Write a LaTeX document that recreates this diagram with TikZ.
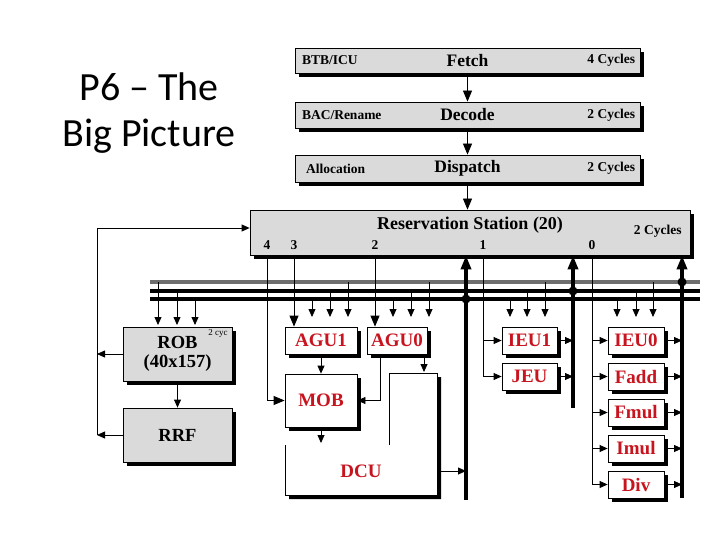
\documentclass[tikz,border=0pt]{standalone}
\usepackage{fontspec}
\setmainfont{Liberation Serif}
\newfontfamily\titlefont{Carlito}
\usepackage{tikz}
\usetikzlibrary{arrows.meta,shadows}
\usepackage{xcolor}
\definecolor{unitred}{RGB}{200, 20, 30}
\definecolor{stagegray}{RGB}{218, 218, 218}
\definecolor{busgray}{RGB}{110, 110, 110}

\tikzset{
  stagebox/.style={draw, line width=0.8pt, fill=stagegray, inner sep=0pt,
    font=\bfseries\fontsize{17.5}{17.5}\selectfont,
    general shadow={shadow xshift=4pt, shadow yshift=-4pt, fill=black}},
  unitbox/.style={draw, line width=0.8pt, fill=white, text=unitred, inner sep=0pt,
    font=\bfseries\fontsize{19}{19}\selectfont,
    general shadow={shadow xshift=3.5pt, shadow yshift=-3.5pt, fill=black}},
  smalllbl/.style={font=\bfseries\fontsize{13.5}{13.5}\selectfont, inner sep=0pt},
  busline/.style={line width=3.3pt},
  wbline/.style={line width=3.4pt},
  bigtip/.style={-{Triangle[length=11pt, width=9pt]}}
}

\begin{document}
\begin{tikzpicture}[x=1pt, y=-1pt, line width=0.8pt, >={Triangle[length=8pt, width=7pt]}]
  \useasboundingbox (0,0) rectangle (720,540);
  \node[font=\titlefont\fontsize{40}{46}\selectfont, align=center] (title) at (149,113) {P6 – The\\Big Picture};

  % front end
  \node[stagebox, minimum width=345, minimum height=25] (fetch) at (467.5,60.5) {Fetch};
  \node[stagebox, minimum width=345, minimum height=26] (decode) at (467.5,115) {Decode};
  \node[stagebox, minimum width=345, minimum height=27] (dispatch) at (467.5,168.5) {Dispatch};
  \node[smalllbl, anchor=west] (btb) at ([xshift=7pt]fetch.west) {BTB/ICU};
  \node[smalllbl, anchor=west] (bac) at ([xshift=7pt]decode.west) {BAC/Rename};
  \node[smalllbl, anchor=west] (alloc) at ([xshift=11pt]dispatch.west) {Allocation};
  \node[smalllbl, anchor=east] (cycf) at ([xshift=-5pt]fetch.east) {4 Cycles};
  \node[smalllbl, anchor=east] (cycd) at ([xshift=-5pt]decode.east) {2 Cycles};
  \node[smalllbl, anchor=east] (cycp) at ([xshift=-5pt]dispatch.east) {2 Cycles};
  \draw[bigtip] (fetch) -- (decode);
  \draw[bigtip] (decode) -- (dispatch);

  % reservation station
  \node[stagebox, minimum width=440, minimum height=45] (rs) at (470,232.5) {};
  \node[font=\bfseries\fontsize{18}{18}\selectfont] (rstitle) at (470,225) {Reservation Station (20)};
  \node[smalllbl, anchor=east] (cycr) at (682,231) {2 Cycles};
  \foreach \xx/\d in {267/4, 294/3, 375/2, 483/1, 592/0}
    \node[smalllbl] (port\d) at (\xx,245) {\d};
  \draw[bigtip] (dispatch) -- (dispatch |- rs.north);

  % buses
  \draw[busline, busgray] (150,282) -- (700,282);
  \draw[busline] (150,291) -- (700,291);
  \draw[busline] (150,299) -- (700,299);
  \foreach \xx/\yy in {158/282, 177/291, 195/299}
    \draw[->] (\xx,\yy) -- (\xx,325);
  \foreach \xx/\yy in {312/299, 330/291, 348/282, 393/299, 411/291, 429/282,
                       510/299, 527/291, 545/282, 617/299, 636/291, 653/282}
    \draw[->] (\xx,\yy) -- (\xx,317);

  % retirement
  \node[stagebox, minimum width=109, minimum height=54, align=center,
        font=\bfseries\fontsize{18.5}{19}\selectfont] (rob) at (177.5,354) {ROB\\(40x157)};
  \node[font=\fontsize{9}{9}\selectfont, inner sep=0pt, anchor=north east] (robcyc) at (228,329) {2 cyc};
  \node[stagebox, minimum width=109, minimum height=54,
        font=\bfseries\fontsize{18.5}{18.5}\selectfont] (rrf) at (177.5,435) {RRF};
  \draw[->] (rob) -- (rrf);
  \coordinate (ret) at (97,228);
  \draw[->] (rob.west) -- (rob.west -| ret);
  \draw[->] (rrf.west) -- (rrf.west -| ret);
  \draw (ret |- rrf.west) -- (ret);
  \draw[->] (ret) -- (ret -| rs.west);

  % memory units
  \node[unitbox, minimum width=72, minimum height=27] (agu1) at (321,340.5) {AGU1};
  \node[unitbox, minimum width=60, minimum height=27] (agu0) at (397,340.5) {AGU0};
  \node[unitbox, minimum width=72, minimum height=53] (mob) at (321,400.5) {MOB};
  \fill[black] (289,449) -- (289,499) -- (441,499) -- (441,377) -- (393,377) -- (393,449) -- cycle;
  \fill[white] (285,445) -- (285,495) -- (437,495) -- (437,373) -- (389,373) -- (389,445) -- cycle;
  \draw (285,445) -- (285,495) -- (437,495) -- (437,373) -- (389,373) -- (389,445);
  \node[text=unitred, font=\bfseries\fontsize{19}{19}\selectfont] (dcu) at (361,471) {DCU};
  \coordinate (dcuin) at (321,443);
  \coordinate (dcutop) at (424,372);
  \coordinate (dcuout) at (437,471);
  \draw[bigtip] (port4 |- rs.south) |- (mob.west);
  \draw[bigtip] (port3 |- rs.south) -- (port3 |- agu1.north);
  \draw[bigtip] (port2 |- rs.south) -- (port2 |- agu0.north);
  \draw[->] (agu1) -- (mob);
  \draw[->] (mob.south) -- (dcuin);
  \draw[->] (agu0.south -| dcutop) -- (dcutop);
  \draw[->] ([xshift=-17pt]agu0.south) |- (mob.east);

  % integer / fp units
  \node[unitbox, minimum width=55, minimum height=27] (ieu1) at (529.5,340.5) {IEU1};
  \node[unitbox, minimum width=55, minimum height=27] (jeu) at (529.5,376.5) {JEU};
  \foreach \nm/\txt [count=\k from 0] in {ieu0/IEU0, fadd/Fadd, fmul/Fmul, imul/Imul, div/Div}
    \node[unitbox, minimum width=56, minimum height=27] (\nm) at (636,{340.5+36*\k}) {\txt};

  % write back
  \coordinate (wb1) at (466,500);
  \coordinate (wb2) at (573,408);
  \coordinate (wb3) at (682,498);
  \foreach \w in {wb1, wb2, wb3}
    \draw[wbline, -{Triangle[length=14pt, width=10pt]}] (\w) -- (\w |- rs.south);
  \fill (466,299) circle (4.5);
  \fill (573,291) circle (4.5);
  \fill (682,282) circle (4.5);
  \draw[->] (dcuout) -- (dcuout -| wb1);

  \draw (port1 |- rs.south) -- (port1 |- jeu.west);
  \foreach \u in {ieu1, jeu} {
    \draw[->] (port1 |- \u.west) -- (\u.west);
    \draw[->] (\u.east) -- (\u.east -| wb2);
  }
  \draw (port0 |- rs.south) -- (port0 |- div.west);
  \foreach \u in {ieu0, fadd, fmul, imul, div} {
    \draw[->] (port0 |- \u.west) -- (\u.west);
    \draw[->] (\u.east) -- (\u.east -| wb3);
  }
\end{tikzpicture}
\end{document}
